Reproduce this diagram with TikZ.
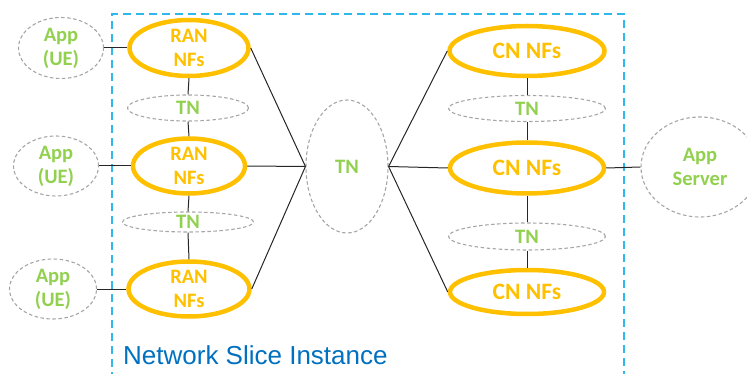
\documentclass[tikz,border=0pt]{standalone}
\usepackage{fontspec}
\usetikzlibrary{shapes.geometric}
\newfontfamily\calfont{Carlito}
\newfontfamily\arialfont{Liberation Sans}
\definecolor{nfgold}{HTML}{FFC000}
\definecolor{tngreen}{HTML}{92D050}
\definecolor{dashgray}{HTML}{A6A6A6}
\definecolor{sliceblue}{HTML}{2FB8EC}
\definecolor{textblue}{HTML}{0070C0}
\tikzset{
  nfell/.style={ellipse, draw=nfgold, line width=4.5pt, inner sep=0pt},
  grayell/.style={ellipse, draw=dashgray, line width=1.1pt, dash pattern=on 3.5pt off 2.5pt, inner sep=0pt},
  nflbl/.style={text=nfgold, font={\calfont\bfseries\fontsize{20.5}{24}\selectfont}, align=center, inner sep=0pt},
  cnlbl/.style={text=nfgold, font={\calfont\bfseries\fontsize{23.5}{27}\selectfont}, align=center, inner sep=0pt},
  grlbl/.style={text=tngreen, font={\calfont\bfseries\fontsize{20.5}{24}\selectfont}, align=center, inner sep=0pt},
  conn/.style={draw=black!85, line width=1pt},
}
\begin{document}
\begin{tikzpicture}[x=1pt,y=-1pt]
\useasboundingbox (0,0) rectangle (747,374);
\clip (0,0) rectangle (747,374);
% slice boundary
\draw[sliceblue, line width=1.8pt, dash pattern=on 8pt off 5pt] (112,380) -- (112,14) -- (624,14) -- (624,380);
\node[text=textblue, font={\arialfont\fontsize{26}{30}\selectfont}, anchor=base west, inner sep=0pt] (nsi) at (123,364) {Network Slice Instance};
% App UE
\node[grayell, minimum width=85pt, minimum height=61pt] (ue1) at (61,48) {};
\node[grayell, minimum width=85pt, minimum height=60pt] (ue2) at (56,166) {};
\node[grayell, minimum width=87pt, minimum height=60pt] (ue3) at (53,289) {};
\node[grlbl] (ue1t) at (ue1) {App\\(UE)};
\node[grlbl] (ue2t) at (ue2) {App\\(UE)};
\node[grlbl] (ue3t) at (ue3) {App\\(UE)};
% RAN NFs
\node[nfell, minimum width=119pt, minimum height=56pt] (ran1) at (189,48) {};
\node[nfell, minimum width=112pt, minimum height=55pt] (ran2) at (189,166) {};
\node[nfell, minimum width=121pt, minimum height=55pt] (ran3) at (189,289) {};
\node[nflbl] (ran1t) at (ran1) {RAN\\NFs};
\node[nflbl] (ran2t) at (ran2) {RAN\\NFs};
\node[nflbl] (ran3t) at (ran3) {RAN\\NFs};
% small TN left
\node[grayell, minimum width=121pt, minimum height=26pt] (tnl1) at (188,108) {};
\node[grayell, minimum width=131pt, minimum height=20pt] (tnl2) at (188,222) {};
\node[grlbl] (tnl1t) at (tnl1) {TN};
\node[grlbl] (tnl2t) at (tnl2) {TN};
% central TN
\node[grayell, minimum width=82pt, minimum height=133pt] (tnc) at (347,166.5) {};
\node[grlbl] (tnct) at (tnc) {TN};
% CN NFs
\node[nfell, minimum width=155pt, minimum height=50pt] (cn1) at (527,51) {};
\node[nfell, minimum width=154pt, minimum height=51pt] (cn2) at (527,168) {};
\node[nfell, minimum width=154pt, minimum height=44pt] (cn3) at (527,292) {};
\node[cnlbl] (cn1t) at (cn1) {CN NFs};
\node[cnlbl] (cn2t) at (cn2) {CN NFs};
\node[cnlbl] (cn3t) at (cn3) {CN NFs};
% small TN right
\node[grayell, minimum width=157pt, minimum height=26pt] (tnr1) at (527,108.5) {};
\node[grayell, minimum width=157pt, minimum height=27pt] (tnr2) at (527,236.5) {};
\node[grlbl] (tnr1t) at (tnr1) {TN};
\node[grlbl] (tnr2t) at (tnr2) {TN};
% App Server
\node[grayell, minimum width=118pt, minimum height=100pt] (srv) at (700,167) {};
\node[grlbl] (srvt) at (srv) {App\\Server};
% connectors
\draw[conn] (ue1.east) -- (ran1.west);
\draw[conn] (ue2.east) -- (ran2.west);
\draw[conn] (ue3.east) -- (ran3.west);
\draw[conn] (ran1.south) -- (tnl1.north);
\draw[conn] (tnl1.south) -- (ran2.north);
\draw[conn] (ran2.south) -- (tnl2.north);
\draw[conn] (tnl2.south) -- (ran3.north);
\draw[conn] (ran1.east) -- (tnc.west);
\draw[conn] (ran2.east) -- (tnc.west);
\draw[conn] (ran3.east) -- (tnc.west);
\draw[conn] (tnc.east) -- (cn1.west);
\draw[conn] (tnc.east) -- (cn2.west);
\draw[conn] (tnc.east) -- (cn3.west);
\draw[conn] (cn1.south) -- (tnr1.north);
\draw[conn] (tnr1.south) -- (cn2.north);
\draw[conn] (cn2.south) -- (tnr2.north);
\draw[conn] (tnr2.south) -- (cn3.north);
\draw[conn] (cn2.east) -- (srv.west);
\end{tikzpicture}
\end{document}
